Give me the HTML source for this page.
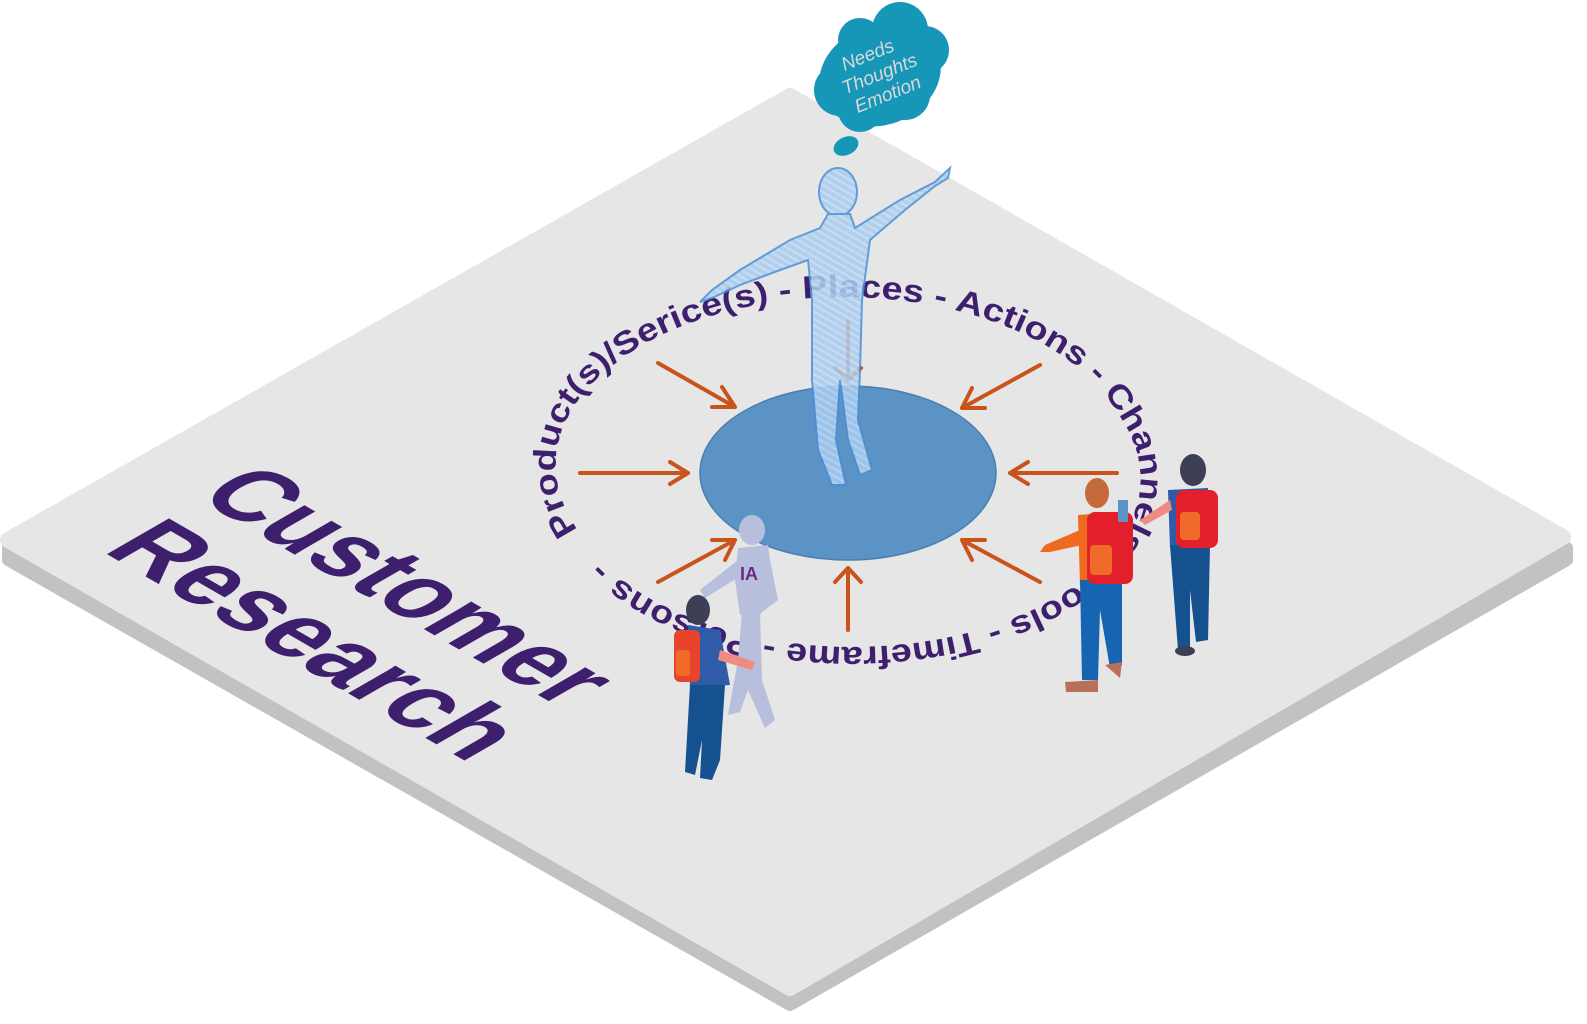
<!DOCTYPE html>
<html><head><meta charset="utf-8"><style>
html,body{margin:0;padding:0;background:#fff;}
svg{display:block;}
</style></head><body>
<svg width="1587" height="1024" viewBox="0 0 1587 1024" xmlns="http://www.w3.org/2000/svg">
<defs>
<path id="ring" d="M578,530 A288,168 0 1,1 1118,414 A288,168 0 1,1 578,530"/>
<pattern id="hatch" width="6" height="6" patternUnits="userSpaceOnUse" patternTransform="rotate(30)">
<rect width="6" height="6" fill="#a9cdef"/><rect width="6" height="2" fill="#c3dcf5"/></pattern>
</defs>
<!-- platform -->
<path d="M8,545 L790,102 L1567,548 L1567,560 L790,1005 L8,560 Z" fill="#c2c2c2" stroke="#c2c2c2" stroke-width="12" stroke-linejoin="round"/>
<path d="M8,540 L790,96 L1563,537 L790,988 Z" fill="#e6e6e6" stroke="#e6e6e6" stroke-width="16" stroke-linejoin="round"/>
<!-- Customer Research -->
<g transform="translate(195,497) matrix(0.866,0.5,-0.866,0.5,0,0)" fill="#3e1f6e" font-family="Liberation Sans, sans-serif" font-weight="bold">
<text x="0" y="0" font-size="104" textLength="425" lengthAdjust="spacingAndGlyphs">Customer</text>
<text x="0" y="108" font-size="104" textLength="425" lengthAdjust="spacingAndGlyphs">Research</text>
</g>
<!-- ring text -->
<text font-family="Liberation Sans, sans-serif" font-weight="bold" font-size="32" fill="#3e1f6e"><textPath href="#ring" textLength="1450" lengthAdjust="spacingAndGlyphs">Product(s)/Serice(s) - Places -  Actions - Channels - Tools - Timeframe - Persons - </textPath></text>
<!-- central ellipse -->
<ellipse cx="848" cy="473" rx="148" ry="87" fill="#5b93c4" stroke="#4a7fb0" stroke-width="1.5"/>
<!-- arrows -->
<g stroke="#c9531a" stroke-width="4" fill="none" stroke-linecap="round">
<path d="M658,363 L735,407 M735,407 L712,407 M735,407 L722,387"/>
<path d="M580,473 L688,473 M688,473 L670,462 M688,473 L670,484"/>
<path d="M658,582 L735,540 M735,540 L712,540 M735,540 L725,560"/>
<path d="M848,630 L848,568 M848,568 L835,582 M848,568 L861,582"/>
<path d="M1040,582 L962,540 M962,540 L985,540 M962,540 L972,560"/>
<path d="M1117,473 L1010,473 M1010,473 L1028,462 M1010,473 L1028,484"/>
<path d="M1040,365 L962,408 M962,408 L985,408 M962,408 L972,388"/>
<path d="M848,322 L848,380 M848,380 L835,368 M848,380 L861,368"/>
</g>
<!-- figure -->
<g fill="url(#hatch)" stroke="#4a8fd6" stroke-width="2" opacity="0.85">
<ellipse cx="838" cy="192" rx="19" ry="24"/>
<path d="M828,214 L850,214 L855,228 L900,200 L935,182 L950,168 L948,178 L935,186 L905,210 L870,240 L862,300 L860,370 L858,420 L872,470 L860,475 L848,440 L840,380 L836,440 L846,485 L832,485 L818,450 L812,380 L812,300 L808,260 L780,270 L740,285 L712,298 L700,302 L712,290 L740,270 L790,240 L820,228 Z"/>
</g>
<!-- cloud -->
<g fill="#1797b8">
<ellipse cx="880" cy="75" rx="62" ry="50" transform="rotate(-20 880 75)"/>
<circle cx="900" cy="30" r="28"/><circle cx="925" cy="50" r="24"/><circle cx="840" cy="90" r="26"/><circle cx="860" cy="110" r="22"/><circle cx="905" cy="95" r="25"/><circle cx="860" cy="40" r="22"/>
<ellipse cx="846" cy="146" rx="13" ry="9" transform="rotate(-25 846 146)"/>
</g>
<g transform="rotate(-22 880 75)" fill="#d8d8d8" font-family="Liberation Sans, sans-serif" font-style="italic" font-size="19" text-anchor="middle">
<text x="876" y="58">Needs</text><text x="880" y="80">Thoughts</text><text x="880" y="102">Emotion</text>
</g>
<!-- robot -->
<g fill="#b8bfdd">
<ellipse cx="752" cy="530" rx="13" ry="15"/>
<path d="M738,548 L768,545 L775,595 L760,615 L740,615 L735,580 Z"/>
<path d="M742,612 L760,612 L762,680 L775,720 L765,728 L748,690 L740,712 L728,715 L738,660 Z"/>
<path d="M738,560 L700,590 L705,598 L742,575 Z"/>
<path d="M770,560 L778,600 L745,625 L742,618 L768,598 Z"/>
</g>
<text x="740" y="580" font-family="Liberation Sans, sans-serif" font-weight="bold" font-size="18" fill="#6d2a85">IA</text>
<!-- woman left -->
<g>
<ellipse cx="698" cy="610" rx="12" ry="15" fill="#3c3f55"/>
<path d="M688,625 L720,630 L730,685 L690,688 Z" fill="#2f5ba8"/>
<path d="M690,685 L725,685 L720,760 L712,780 L700,778 L702,740 L695,775 L685,772 Z" fill="#15508f"/>
<rect x="674" y="630" width="26" height="52" rx="6" fill="#e8442c"/>
<rect x="676" y="650" width="14" height="26" rx="3" fill="#f06a2a"/>
<path d="M720,650 L755,662 L752,670 L718,660 Z" fill="#ef8b80"/>
</g>
<!-- man -->
<g>
<ellipse cx="1097" cy="493" rx="12" ry="15" fill="#c46a3a"/>
<path d="M1078,515 L1118,512 L1128,580 L1080,585 Z" fill="#ee6a1e"/>
<path d="M1080,580 L1122,580 L1122,665 L1110,668 L1100,610 L1098,680 L1082,680 Z" fill="#1565b2"/>
<path d="M1065,682 L1098,680 L1098,692 L1066,692 Z" fill="#b8705a"/>
<path d="M1105,665 L1122,662 L1120,678 Z" fill="#b8705a"/>
<rect x="1087" y="512" width="46" height="72" rx="8" fill="#e21f2b"/>
<rect x="1090" y="545" width="22" height="30" rx="4" fill="#f06a2a"/>
<path d="M1080,530 L1045,545 L1040,552 L1050,552 L1082,545 Z" fill="#ee6a1e"/>
<rect x="1118" y="500" width="10" height="22" fill="#5b93c4"/>
</g>
<!-- woman right -->
<g>
<ellipse cx="1193" cy="470" rx="13" ry="16" fill="#3c3f55"/>
<path d="M1168,490 L1208,488 L1210,545 L1170,548 Z" fill="#2f5ba8"/>
<path d="M1170,545 L1210,545 L1208,640 L1196,642 L1190,590 L1190,650 L1178,650 Z" fill="#15508f"/>
<rect x="1176" y="490" width="42" height="58" rx="8" fill="#e21f2b"/>
<rect x="1180" y="512" width="20" height="28" rx="4" fill="#f06a2a"/>
<path d="M1170,500 L1140,520 L1145,525 L1172,510 Z" fill="#ef8b80"/>
<ellipse cx="1185" cy="651" rx="10" ry="5" fill="#3c3f55"/>
</g>
</svg>
</body></html>
